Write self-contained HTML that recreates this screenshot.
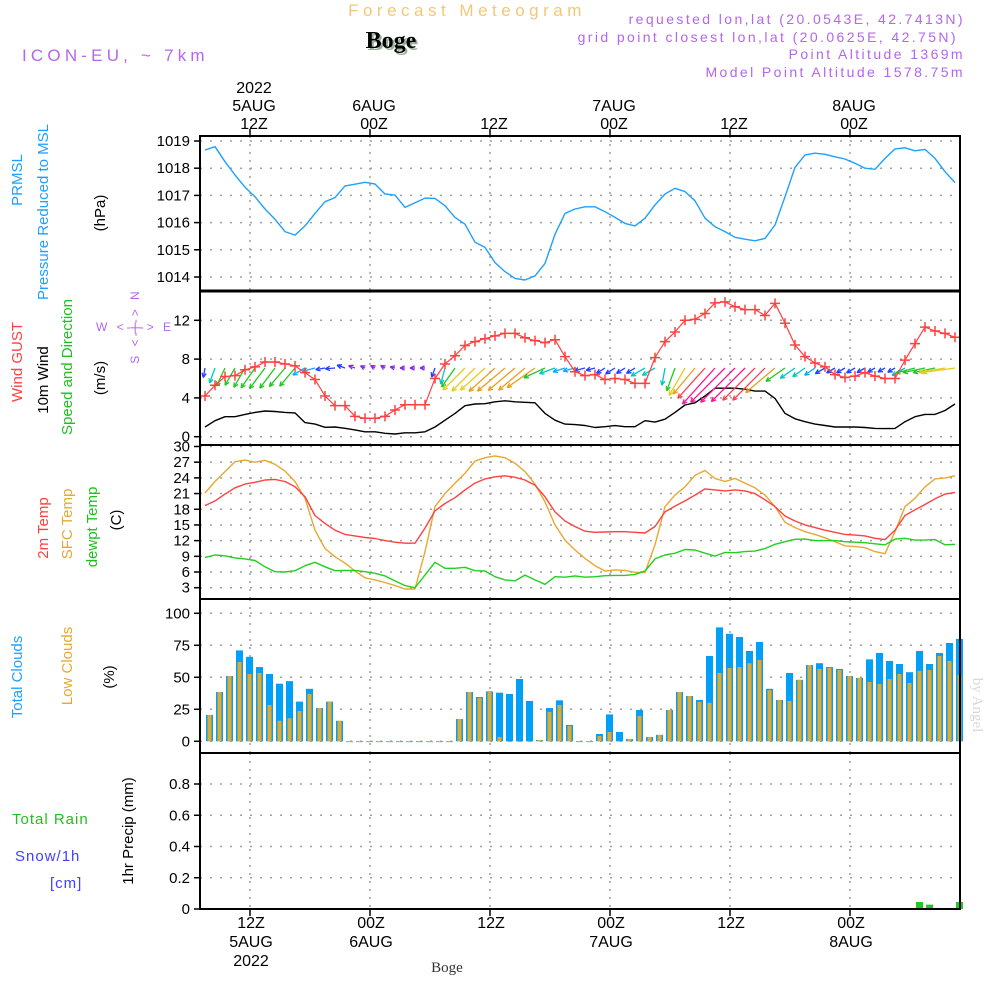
<!DOCTYPE html>
<html><head><meta charset="utf-8">
<style>
html,body{margin:0;padding:0;background:#fff;}
svg{display:block;font-family:"Liberation Sans",sans-serif;}
</style></head>
<body>
<svg id="chart" width="1000" height="1000" viewBox="0 0 1000 1000" xmlns="http://www.w3.org/2000/svg">
<g>
<text x="467" y="16" text-anchor="middle" font-size="17" fill="#f2c878" letter-spacing="4.5">Forecast Meteogram</text>
<text x="391" y="48" text-anchor="middle" font-family="Liberation Serif,serif" font-weight="bold" font-size="24" fill="#9ab09a" dx="2" dy="2">Boge</text>
<text x="391" y="48" text-anchor="middle" font-family="Liberation Serif,serif" font-weight="bold" font-size="24" fill="#000">Boge</text>
<text x="22" y="61" font-size="17" fill="#b466ee" letter-spacing="4.2">ICON-EU, ~ 7km</text>
<text x="965" y="24" text-anchor="end" font-size="14" fill="#b466ee" letter-spacing="2.4">requested lon,lat (20.0543E, 42.7413N)</text>
<text x="958" y="42" text-anchor="end" font-size="14" fill="#b466ee" letter-spacing="2.4">grid point closest lon,lat (20.0625E, 42.75N)</text>
<text x="965" y="59" text-anchor="end" font-size="14" fill="#b466ee" letter-spacing="2.4">Point Altitude 1369m</text>
<text x="965" y="77" text-anchor="end" font-size="14" fill="#b466ee" letter-spacing="2.4">Model Point Altitude 1578.75m</text>
<text x="447" y="972" text-anchor="middle" font-family="Liberation Serif,serif" font-size="15" fill="#333">Boge</text>
<text transform="translate(973,705) rotate(90)" text-anchor="middle" font-family="Liberation Serif,serif" font-size="15" fill="#d8d8d8">by Angel</text>
</g>
<g font-size="15">
<text transform="translate(22,180) rotate(-90)" text-anchor="middle" fill="#1ea0ff">PRMSL</text>
<text transform="translate(48,212) rotate(-90)" text-anchor="middle" fill="#1ea0ff">Pressure Reduced to MSL</text>
<text transform="translate(105,213) rotate(-90)" text-anchor="middle" fill="#000">(hPa)</text>
<text transform="translate(22,362) rotate(-90)" text-anchor="middle" fill="#ff4040">Wind GUST</text>
<text transform="translate(48,380) rotate(-90)" text-anchor="middle" fill="#000">10m Wind</text>
<text transform="translate(72,367) rotate(-90)" text-anchor="middle" fill="#20c020">Speed and Direction</text>
<text transform="translate(105,378) rotate(-90)" text-anchor="middle" fill="#000">(m/s)</text>
<text x="135" y="331" text-anchor="middle" font-size="12" fill="#b466ee" letter-spacing="3">W &lt;-|-&gt; E</text>
<text transform="translate(139,326) rotate(-90)" text-anchor="middle" font-size="12" fill="#b466ee" letter-spacing="3">S &lt;-|-&gt; N</text>
<text transform="translate(48,528) rotate(-90)" text-anchor="middle" fill="#ff4040">2m Temp</text>
<text transform="translate(72,524) rotate(-90)" text-anchor="middle" fill="#e8a830">SFC Temp</text>
<text transform="translate(97,527) rotate(-90)" text-anchor="middle" fill="#20c020">dewpt Temp</text>
<text transform="translate(121,520) rotate(-90)" text-anchor="middle" fill="#000">(C)</text>
<text transform="translate(22,677) rotate(-90)" text-anchor="middle" fill="#1ea0ff">Total Clouds</text>
<text transform="translate(72,666) rotate(-90)" text-anchor="middle" fill="#e8a830">Low Clouds</text>
<text transform="translate(114,677) rotate(-90)" text-anchor="middle" fill="#000">(%)</text>
<text x="12" y="824" fill="#20c020" letter-spacing="1">Total  Rain</text>
<text x="15" y="861" fill="#4040ff" letter-spacing="1">Snow/1h</text>
<text x="50" y="888" fill="#4040ff" letter-spacing="1">[cm]</text>
<text transform="translate(133,831) rotate(-90)" text-anchor="middle" fill="#000">1hr Precip (mm)</text>
</g>
<g id="grid"></g>
<g id="marks"></g>
<g id="frames"></g>
<g id="ticks" font-size="15"></g>
</svg>
<script>
// ---- data ----
const pressure = [1018.67,1018.79,1018.24,1017.75,1017.3,1016.95,1016.5,1016.12,1015.67,1015.54,1015.88,1016.34,1016.77,1016.92,1017.35,1017.41,1017.48,1017.42,1017.05,1017.01,1016.56,1016.73,1016.9,1016.89,1016.62,1016.19,1015.94,1015.28,1015.09,1014.53,1014.2,1013.95,1013.89,1014.04,1014.5,1015.57,1016.34,1016.5,1016.58,1016.58,1016.4,1016.19,1015.97,1015.88,1016.16,1016.65,1017.05,1017.26,1017.14,1016.8,1016.16,1015.85,1015.67,1015.46,1015.39,1015.33,1015.42,1015.91,1016.95,1018.03,1018.49,1018.55,1018.51,1018.42,1018.34,1018.18,1018.0,1017.96,1018.36,1018.71,1018.75,1018.64,1018.69,1018.36,1017.87,1017.47];
const windGust = [4.2,5.3,6.2,6.3,6.9,7.2,7.7,7.7,7.5,7.3,6.6,5.9,4.2,3.2,3.2,2.1,1.9,1.9,2.1,2.75,3.3,3.3,3.3,6.0,7.5,8.35,9.4,9.8,10.1,10.4,10.65,10.65,10.2,9.9,9.7,10.0,8.25,6.7,6.3,6.4,5.9,6.0,5.9,5.5,5.5,8.15,9.8,10.8,12.0,12.1,12.7,13.8,13.9,13.4,13.1,13.1,12.5,13.75,11.7,9.45,8.25,7.6,7.2,6.4,6.1,6.25,6.6,6.25,6.0,6.0,7.9,9.6,11.3,10.9,10.65,10.25];
const wind10m = [1.0,1.65,2.06,2.06,2.3,2.5,2.65,2.6,2.5,2.45,1.45,1.3,0.97,1.0,0.87,0.7,0.5,0.5,0.35,0.28,0.4,0.4,0.5,1.0,1.7,2.4,3.2,3.37,3.4,3.6,3.7,3.6,3.55,3.5,2.4,1.7,1.3,1.25,1.15,0.95,1.03,1.14,1.03,1.03,1.65,1.5,1.8,2.5,3.27,3.5,4.2,5.0,5.0,5.0,4.9,4.7,4.7,3.95,2.4,1.85,1.55,1.3,1.15,1.0,1.0,1.0,0.95,0.86,0.83,0.86,1.55,2.06,2.3,2.3,2.7,3.37];
const windDir = [190,200,205,210,210,215,217,217,220,220,240,255,260,265,290,290,295,300,300,285,270,270,270,200,195,215,225,225,228,228,230,230,230,235,245,250,252,255,255,255,238,238,238,238,240,240,190,200,210,220,222,222,225,225,225,225,225,230,235,235,235,235,240,240,240,240,240,240,240,240,240,255,258,258,260,262];
const temp2m = [18.7,19.6,20.9,22.1,22.8,23.15,23.6,23.7,23.3,22.3,20.4,16.8,15.3,14.0,13.2,12.9,12.6,12.4,12.0,11.7,11.5,11.5,14.4,17.7,19.1,20.2,21.7,23.0,23.8,24.2,24.4,24.1,23.6,22.6,20.4,17.5,15.75,14.7,13.8,13.6,13.65,13.7,13.7,13.6,13.45,14.7,17.5,18.6,19.6,20.7,21.9,21.7,21.5,21.7,21.5,21.0,19.8,18.5,16.7,15.75,15.0,14.5,14.0,13.6,13.2,13.05,12.9,12.45,12.2,14.0,16.8,17.9,18.9,20.0,20.9,21.2];
const tempSfc = [21.1,23.3,25.2,27.1,27.4,27.0,27.35,26.6,25.3,23.3,20.1,14.0,10.5,8.9,7.7,6.2,4.9,4.5,4.0,3.4,2.75,2.75,9.9,18.5,21.0,23.0,24.9,27.2,27.85,28.2,27.85,26.8,25.2,22.8,19.4,15.0,12.1,10.2,8.6,7.2,6.2,6.4,6.3,5.95,5.9,11.2,18.5,20.7,22.3,24.5,25.4,23.9,23.3,23.9,23.0,22.1,20.7,18.5,15.5,14.5,13.7,13.2,12.55,11.8,11.0,10.85,10.65,9.9,9.5,13.7,18.5,20.1,22.3,23.8,24.0,24.4];
const dewpoint = [8.8,9.25,9.1,8.7,8.5,8.2,7.0,6.05,6.0,6.25,7.2,7.85,7.0,6.25,6.3,6.3,6.05,5.75,5.25,4.3,3.4,3.0,5.4,7.85,6.7,6.7,6.9,6.25,6.2,5.1,4.5,4.3,5.4,4.5,3.65,5.1,5.0,5.25,5.0,5.1,5.3,5.35,5.35,5.55,6.2,8.5,9.25,9.6,10.3,10.2,9.6,9.05,9.75,9.7,9.9,10.0,10.5,11.3,11.8,12.25,12.3,12.0,12.0,12.0,11.8,11.7,11.6,11.4,11.2,12.3,12.45,12.1,12.1,12.2,11.2,11.3];
const totalClouds = [20.6,38.5,51,71,66,58,52.6,45,47,31,41,26,31,16,0,0,0,0,0,0,0,0,0,0,0,17.4,38.5,34.6,39,38,37,48.7,31.5,1,26,32,12.8,0,0,5.7,21,7.3,1.8,24.5,3.4,5,24.5,38.5,35.4,32.3,66.7,89,84,81.5,70.6,77.6,41,32.3,53.4,48,59.6,61,58,56.5,51,49.5,64,69,62.8,60.4,54,70.6,60.4,69,76.8,80];
const lowClouds = [20.6,38.5,51,62,52.6,53.4,28.4,16,18,23.7,37,26,31,16,0,0,0,0,0,0,0,0,0,0,0,17.4,38.5,33.9,38.5,3.4,0,0,0,1,23,28.4,12,0,0,4.2,7.3,0.3,1.8,19.8,3.4,5,24.5,38.5,35.4,30.7,30,53.4,57.3,58,61,63.5,40,32.3,31.5,48,59.6,56.5,57.3,55.7,51,49.5,46.4,44.8,48.7,52.6,45.6,55,55.7,66.7,62.8,51.8];
const precip = [0,0,0,0,0,0,0,0,0,0,0,0,0,0,0,0,0,0,0,0,0,0,0,0,0,0,0,0,0,0,0,0,0,0,0,0,0,0,0,0,0,0,0,0,0,0,0,0,0,0,0,0,0,0,0,0,0,0,0,0,0,0,0,0,0,0,0,0,0,0,0,0.045,0.028,0,0,0.045];
const startHour = 7.5;           // first sample, hours after 5AUG 00Z
const pressTicks = [1014,1015,1016,1017,1018,1019];
const windTicks = [0,4,8,12];
const tempTicks = [3,6,9,12,15,18,21,24,27,30];
const cloudTicks = [0,25,50,75,100];
const precipTicks = [0,0.2,0.4,0.6,0.8];
const timeTickHours = [12,24,36,48,60,72];
const timeTickTop = [["2022","5AUG","12Z"],["","6AUG","00Z"],["","","12Z"],["","7AUG","00Z"],["","","12Z"],["","8AUG","00Z"]];
const timeTickBottom = [["12Z","5AUG","2022"],["00Z","6AUG",""],["12Z","",""],["00Z","7AUG",""],["12Z","",""],["00Z","8AUG",""]];

// ---- scales ----
const X0 = 200, X1 = 960;
const xT = h => 250 + (h - 12) * 10;
const xLine = i => xT(startHour + i);
const xBar = i => xT(startHour + 0.45 + i);
const yP = p => 277 - (p - 1014) * 27.2;
const yW = v => 436.7 - v * 9.7;
const yTm = t => 587.7 - (t - 3) * 5.23;
const yC = c => 741.3 - c * 1.28;
const yR = r => 909 - r * 156.25;
const panels = [
  {top:136,bot:291,ticks:pressTicks,y:yP,fmt:v=>String(v),name:'pressure'},
  {top:291,bot:445,ticks:windTicks,y:yW,fmt:v=>String(v),name:'wind'},
  {top:445,bot:599,ticks:tempTicks,y:yTm,fmt:v=>String(v),name:'temperature'},
  {top:599,bot:753,ticks:cloudTicks,y:yC,fmt:v=>String(v),name:'clouds'},
  {top:753,bot:909,ticks:precipTicks,y:yR,fmt:v=>v===0?'0':v.toFixed(1),name:'precip'}
];

const NS = 'http://www.w3.org/2000/svg';
function mk(parent, tag, attrs){
  const e = document.createElementNS(NS, tag);
  for (const k in attrs) e.setAttribute(k, attrs[k]);
  parent.appendChild(e);
  return e;
}
const gGrid = document.getElementById('grid');
const gMarks = document.getElementById('marks');
const gFrames = document.getElementById('frames');
const gTicks = document.getElementById('ticks');

panels.forEach(p => {
  p.ticks.forEach(v => {
    const y = p.y(v);
    if (y < p.top - 0.5 || y > p.bot + 0.5) return;
    const gl = mk(gGrid, 'line', {x1:X0, x2:X1, y1:y, y2:y, stroke:'#a0a0a0', 'stroke-width':1.5, 'stroke-dasharray':'2 8'});
    
    
    const tk = mk(gTicks, 'line', {x1:194, x2:X0, y1:y, y2:y, stroke:'#000', 'stroke-width':1.5});
    
    
    const tl = mk(gTicks, 'text', {x:190, y:y + 5, 'text-anchor':'end', fill:'#000'});
    tl.textContent = p.fmt(v);
    
    
  });
  timeTickHours.forEach(h => {
    const vl = mk(gGrid, 'line', {x1:xT(h), x2:xT(h), y1:p.top, y2:p.bot, stroke:'#a0a0a0', 'stroke-width':1.5, 'stroke-dasharray':'2 6'});
    
    
  });
  const fr = mk(gFrames, 'rect', {x:X0, y:p.top, width:X1 - X0, height:p.bot - p.top, fill:'none', stroke:'#000', 'stroke-width':2});
  
  
});
const sep = mk(gFrames, 'line', {x1:X0, x2:X1, y1:291, y2:291, stroke:'#000', 'stroke-width':3});



timeTickHours.forEach((h, k) => {
  const x = xT(h);
  const t1 = mk(gTicks, 'line', {x1:x, x2:x, y1:129, y2:136, stroke:'#000', 'stroke-width':1.5});
  
  
  const t2 = mk(gTicks, 'line', {x1:x, x2:x, y1:909, y2:916, stroke:'#000', 'stroke-width':1.5});
  
  
  timeTickTop[k].forEach((s, r) => {
    if (!s) return;
    const t = mk(gTicks, 'text', {x:x + 4, y:93 + r * 18, 'text-anchor':'middle', 'font-size':16, fill:'#000'});
    t.textContent = s;
    
    
  });
  timeTickBottom[k].forEach((s, r) => {
    if (!s) return;
    const t = mk(gTicks, 'text', {x:x + 1, y:928 + r * 19, 'text-anchor':'middle', 'font-size':16, fill:'#000'});
    t.textContent = s;
    
    
  });
});

function poly(vals, yf, color, name, width){
  const pts = vals.map((v, i) => xLine(i).toFixed(1) + ',' + yf(v).toFixed(1)).join(' ');
  const pl = mk(gMarks, 'polyline', {points:pts, fill:'none', stroke:color, 'stroke-width':width || 1.4, 'stroke-linejoin':'round'});
  
  
  return pl;
}

poly(pressure, yP, '#1ea0ff', 'pressure-line');
poly(wind10m, yW, '#000', 'wind-10m-line');

function speedColor(s){
  if (s < 0.8) return '#8a2be2';
  if (s < 1.2) return '#2040ff';
  if (s < 1.5) return '#10a8ff';
  if (s < 1.9) return '#00c8c0';
  if (s < 2.7) return '#20c820';
  if (s < 3.45) return '#e6cc20';
  if (s < 4.1) return '#e8a020';
  if (s < 4.75) return '#ff4050';
  return '#ff1493';
}
windDir.forEach((d, i) => {
  const s = wind10m[i];
  const len = Math.max(5, s * 9.7);
  const rad = d * Math.PI / 180;
  const x1 = xLine(i), y1 = 368;
  const x2 = x1 + Math.sin(rad) * len, y2 = y1 - Math.cos(rad) * len;
  const c = speedColor(s);
  const g = mk(gMarks, 'g', {stroke:c, 'stroke-width':1.3, fill:'none'});
  
  
  mk(g, 'line', {x1:x1, y1:y1, x2:x2, y2:y2});
  const hl = 5;
  [25, -25].forEach(a => {
    const r2 = (d + 180 + a) * Math.PI / 180;
    mk(g, 'line', {x1:x2, y1:y2, x2:x2 + Math.sin(r2) * hl, y2:y2 - Math.cos(r2) * hl});
  });
});

poly(windGust, yW, '#ff4040', 'wind-gust-line', 1.2);
windGust.forEach((v, i) => {
  const x = xLine(i), y = yW(v);
  const cr = mk(gMarks, 'path', {d:`M${x-5},${y}H${x+5}M${x},${y-5}V${y+5}`, stroke:'#ff4040', 'stroke-width':1.5});
  
  
});

poly(tempSfc, yTm, '#e8a830', 'sfc-temp-line');
poly(temp2m, yTm, '#ff4040', 'temp-2m-line');
poly(dewpoint, yTm, '#20d020', 'dewpoint-line');

totalClouds.forEach((v, i) => {
  const x = xBar(i);
  const b = mk(gMarks, 'rect', {x:x - 3.5, y:yC(v), width:7, height:Math.max(0.8, yC(0) - yC(v)), fill:'#00a0f8'});
  
  
});
lowClouds.forEach((v, i) => {
  const x = xBar(i);
  const b = mk(gMarks, 'rect', {x:x - 2, y:yC(v), width:4, height:Math.max(0.8, yC(0) - yC(v)), fill:'#e8a828'});
  
  
});

precip.forEach((v, i) => {
  if (v <= 0) return;
  const x = xBar(i);
  const b = mk(gMarks, 'rect', {x:x - 3.5, y:yR(v), width:7, height:yR(0) - yR(v), fill:'#20c820'});
  
  
});
</script>
</body></html>
